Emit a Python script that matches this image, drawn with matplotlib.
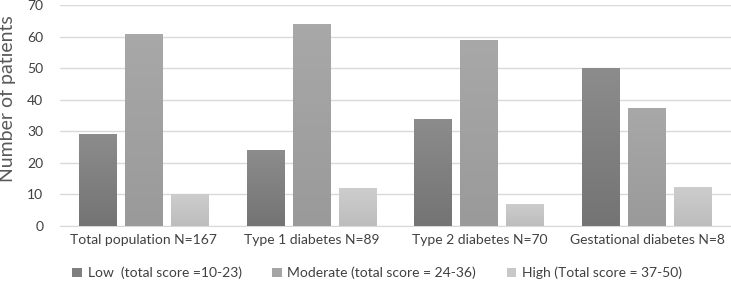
import matplotlib
matplotlib.use("Agg")
import matplotlib.pyplot as plt
import numpy as np
from matplotlib.colors import LinearSegmentedColormap
from matplotlib.patches import Patch

categories = ["Total population N=167", "Type 1 diabetes N=89",
              "Type 2 diabetes N=70", "Gestational diabetes N=8"]
series_names = ["Low  (total score =10-23)", "Moderate (total score = 24-36)",
                "High (Total score = 37-50)"]
low = [29, 24, 34, 50]
moderate = [61, 64, 59, 37.5]
high = [10, 12, 7, 12.5]
yticks = [0, 10, 20, 30, 40, 50, 60, 70]

plt.rcParams['font.family'] = ['Lato', 'DejaVu Sans']

# (top colour, bottom colour) for gradient fill
grads = [("#8c8c8c", "#747474"), ("#a8a8a8", "#9a9a9a"), ("#cdcdcd", "#bdbdbd")]
legend_cols = ["#7f7f7f", "#a5a5a5", "#c8c8c8"]

fig = plt.figure(figsize=(7.31, 2.85), dpi=100)
ax = fig.add_axes([0.082, 0.207, 0.918, 0.775])

x = np.arange(len(categories))
width = 0.226
offset = 0.274
data = [low, moderate, high]
for i, vals in enumerate(data):
    pos = x + (i - 1) * offset
    bars = ax.bar(pos, vals, width, color="none", edgecolor="none", zorder=3)
    cmap = LinearSegmentedColormap.from_list("g%d" % i, [grads[i][1], grads[i][0]])
    for b in bars:
        x0, y0 = b.get_x(), b.get_y()
        w, h = b.get_width(), b.get_height()
        grad = np.linspace(0, 1, 64).reshape(-1, 1)
        im = ax.imshow(grad, extent=[x0, x0 + w, y0, y0 + h], origin="lower",
                       cmap=cmap, aspect="auto", zorder=3)
        im.set_clip_path(b)

ax.set_xlim(-0.5, 3.5)
ax.set_ylim(0, 70)
ax.set_yticks(yticks)
ax.set_xticks(x)
ax.set_xticklabels(categories)
ax.yaxis.grid(True, color="#d9d9d9", linewidth=1.0, zorder=0)
ax.set_axisbelow(True)
for s in ["top", "right", "left"]:
    ax.spines[s].set_visible(False)
ax.spines["bottom"].set_color("#d9d9d9")
ax.tick_params(axis="both", length=0, labelsize=10, colors="#404040")
ax.tick_params(axis="x", pad=6)
ax.tick_params(axis="y", pad=12)
ax.set_ylabel("Number of patients", fontsize=14, color="#595959")
ax.yaxis.set_label_coords(-0.066, 0.575)

handles = [Patch(facecolor=c, edgecolor="none") for c in legend_cols]
fig.legend(handles, series_names, loc="center", bbox_to_anchor=(0.516, 0.042),
           ncol=3, frameon=False, fontsize=10, handlelength=0.7, handleheight=0.7,
           handletextpad=0.4, columnspacing=2.2, labelcolor="#404040")

fig.savefig("out.png", dpi=100)
